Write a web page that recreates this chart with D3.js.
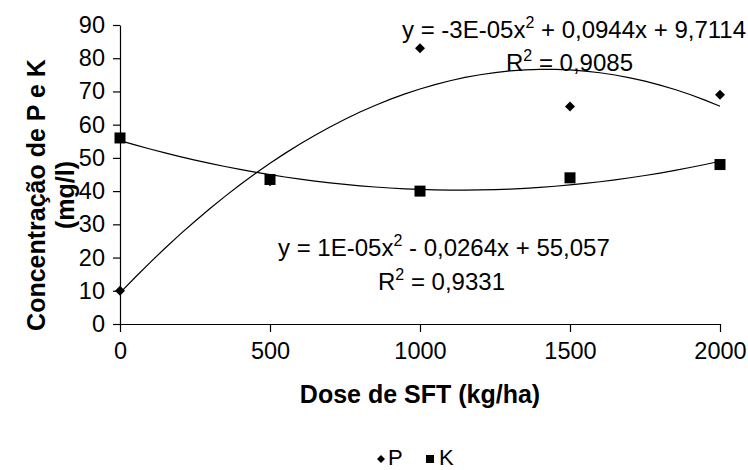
<!DOCTYPE html>
<html><head><meta charset="utf-8">
<script src="https://cdn.jsdelivr.net/npm/d3@7"></script>
<style>body{margin:0;background:#fff}svg{display:block}text{font-family:"Liberation Sans",Arial,sans-serif;fill:#000}</style>
</head><body>
<svg id="c" width="748" height="470"></svg>
<script>
const doses = [0, 500, 1000, 1500, 2000];
const pValues = [10, 43, 83, 65.5, 69];
const kValues = [56, 43.5, 40, 44, 48];
const yTicks = [0, 10, 20, 30, 40, 50, 60, 70, 80, 90];
const xTicks = [0, 500, 1000, 1500, 2000];
const pEquation = ["y = -3E-05x", "2", " + 0,0944x + 9,7114"];
const pR2 = ["R", "2", " = 0,9085"];
const kEquation = ["y = 1E-05x", "2", " - 0,0264x + 55,057"];
const kR2 = ["R", "2", " = 0,9331"];

const svg = d3.select("#c");
const x = d3.scaleLinear().domain([0, 2000]).range([120, 720]);
const y = d3.scaleLinear().domain([0, 90]).range([324, 25]);

// quadratic least squares fit
function fit(xs, ys) {
  const n = xs.length;
  let S = [0,0,0,0,0], T = [0,0,0];
  for (let i = 0; i < n; i++) {
    const xi = xs[i];
    for (let k = 0; k < 5; k++) S[k] += Math.pow(xi, k);
    for (let k = 0; k < 3; k++) T[k] += ys[i] * Math.pow(xi, k);
  }
  const A = [[S[0],S[1],S[2],T[0]],[S[1],S[2],S[3],T[1]],[S[2],S[3],S[4],T[2]]];
  for (let i = 0; i < 3; i++) {
    for (let j = i + 1; j < 3; j++) {
      const f = A[j][i] / A[i][i];
      for (let k = i; k < 4; k++) A[j][k] -= f * A[i][k];
    }
  }
  const c = [0,0,0];
  for (let i = 2; i >= 0; i--) {
    let s = A[i][3];
    for (let k = i + 1; k < 3; k++) s -= A[i][k] * c[k];
    c[i] = s / A[i][i];
  }
  return xv => c[0] + c[1] * xv + c[2] * xv * xv;
}

const FONT = '"Liberation Sans",Arial,sans-serif';
// axes
const yAxis = d3.axisLeft(y).tickValues(yTicks).tickFormat(d3.format("d")).tickSize(7).tickSizeOuter(0).tickPadding(8);
const gy = svg.append("g").attr("transform", "translate(120,0)").call(yAxis);
gy.selectAll("text").style("font-size", "23.5px").style("font-family", FONT);
const xAxis = d3.axisBottom(x).tickValues(xTicks).tickFormat(d3.format("d")).tickSize(8).tickSizeOuter(0).tickPadding(10);
const gx = svg.append("g").attr("transform", "translate(0,324)").call(xAxis);
gx.selectAll("text").style("font-size", "23.5px").style("font-family", FONT);
svg.selectAll(".domain, .tick line").attr("stroke", "#000").attr("stroke-width", 1.2);

// trend lines
const samples = d3.range(0, 2001, 50);
const line = d3.line().x(d => x(d[0])).y(d => y(d[1]));
[pValues, kValues].forEach(vals => {
  const f = fit(doses, vals);
  svg.append("path").attr("d", line(samples.map(s => [s, f(s)])))
    .attr("fill", "none").attr("stroke", "#000").attr("stroke-width", 1.2);
});

// markers
svg.selectAll(".p").data(doses).enter().append("path")
  .attr("d", d3.symbol().type(d3.symbolSquare).size(50))
  .attr("transform", (d, i) => `translate(${x(d)},${y(pValues[i])}) rotate(45)`).attr("fill", "#000");
svg.selectAll(".k").data(doses).enter().append("rect")
  .attr("x", d => x(d) - 5.5).attr("y", (d, i) => y(kValues[i]) - 5.5)
  .attr("width", 11).attr("height", 11).attr("fill", "#000");

// equations
function eq(parts, xs, yb) {
  const t = svg.append("text").attr("x", xs).attr("y", yb).attr("text-anchor", "start").style("font-size", "24px");
  t.append("tspan").text(parts[0]);
  t.append("tspan").attr("dy", -10).style("font-size", "16px").text(parts[1]);
  t.append("tspan").attr("dy", 10).text(parts[2]);
}
eq(pEquation, 402, 38);
eq(pR2, 506, 71);
eq(kEquation, 278, 256);
eq(kR2, 378, 290);

// axis titles
svg.append("text").attr("x", 420).attr("y", 403).attr("text-anchor", "middle")
  .style("font-size", "25px").style("font-weight", "bold").text("Dose de SFT (kg/ha)");
const yt = svg.append("text").attr("transform", "translate(45,195) rotate(-90)").attr("text-anchor", "middle")
  .style("font-size", "25px").style("font-weight", "bold");
yt.append("tspan").attr("x", 0).attr("dy", 0).text("Concentração de P e K");
yt.append("tspan").attr("x", 0).attr("dy", 29).text("(mg/l)");

// legend
const lg = svg.append("g");
lg.append("path").attr("d", d3.symbol().type(d3.symbolSquare).size(32)).attr("transform", "translate(381,459) rotate(45)").attr("fill", "#000");
lg.append("text").attr("x", 388).attr("y", 465).style("font-size", "22px").text("P");
lg.append("rect").attr("x", 426).attr("y", 455).attr("width", 8).attr("height", 8).attr("fill", "#000");
lg.append("text").attr("x", 439).attr("y", 465).style("font-size", "22px").text("K");
</script>
</body></html>
